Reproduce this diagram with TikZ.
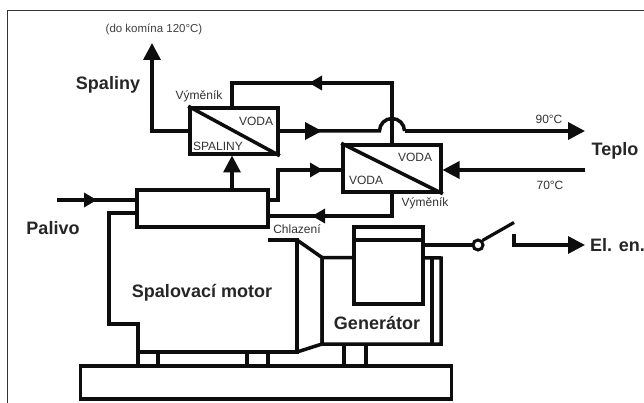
\documentclass[tikz,border=0pt]{standalone}
\usepackage{fontspec}
\setmainfont{Liberation Sans}
\usetikzlibrary{arrows.meta}
\tikzset{
  thk/.style={line width=3.5pt,black!95,line cap=butt,line join=miter},
  med/.style={line width=3.2pt,black!95},
  arr/.style={thk,-{Triangle[length=17pt,width=17pt]}},
  arrs/.style={thk,-{Triangle[length=13pt,width=14pt]}},
  exch/.style={draw=black!95,line width=3.6pt,fill=white,inner sep=0pt},
  big/.style={inner sep=0pt,font=\fontsize{18}{18}\selectfont\bfseries,text=black!85},
  small/.style={inner sep=0pt,font=\fontsize{12}{12}\selectfont,text=black!80},
  tiny/.style={inner sep=0pt,font=\fontsize{11.5}{12}\selectfont,text=black!75},
}
\begin{document}
\begin{tikzpicture}[x=1pt,y=-1pt]
\useasboundingbox (0,0) rectangle (644,403);
\fill[white] (0,0) rectangle (644,403);
% frame
\coordinate (fa) at (7.5,403); \coordinate (fb) at (7.5,10.5); \coordinate (fc) at (644,10.5);
\draw[line width=1.1pt,black!80] (fa) -- (fb) -- (fc);
% base
\node[exch,minimum width=371pt,minimum height=33pt] (base) at (266,382.5) {};
% engine feet
\foreach \n/\x in {a/138,b/158,c/247,d/268}{
  \coordinate (ft\n) at (\x,352); \coordinate (fb\n) at (\x,366);
  \draw[med] (ft\n) -- (fb\n);}
\foreach \n/\x in {e/344,f/366}{
  \coordinate (ft\n) at (\x,344); \coordinate (fb\n) at (\x,366);
  \draw[med] (ft\n) -- (fb\n);}
% engine outline
\coordinate (e1) at (137,213); \coordinate (e2) at (109,213); \coordinate (e3) at (109,324);
\coordinate (e4) at (138,324); \coordinate (e5) at (138,352); \coordinate (e6) at (297,352);
\coordinate (e7) at (297,240); \coordinate (e8) at (268,240);
\draw[thk] (e1) -- (e2) -- (e3) -- (e4) -- (e5) -- (e6) -- (e7) -- (e8);
% coupling
\coordinate (c1) at (322,257.5); \coordinate (c2) at (322,344);
\draw[thk] (e7) -- (c1) -- (c2) -- (e6);
% generator housing
\coordinate (g1) at (441,258); \coordinate (g2) at (441,344); \coordinate (g3) at (432,258); \coordinate (g4) at (432,344);
\draw[thk] (c1) -- (g1) -- (g2) -- (c2) -- cycle;
\draw[med] (g3) -- (g4);
% generator box
\node[exch,minimum width=69pt,minimum height=77pt] (gen) at (388.5,265.5) {};
\coordinate (gi1) at (354,240); \coordinate (gi2) at (423,240);
\draw[thk] (gi1) -- (gi2);
% head box of the engine
\node[exch,minimum width=131pt,minimum height=37pt] (head) at (202.5,208.5) {};
% exchangers
\node[exch,minimum width=88pt,minimum height=46pt] (x1) at (234,131) {};
\draw[thk] (x1.north west) -- (x1.south east);
\node[exch,minimum width=98pt,minimum height=47pt] (x2) at (392,168.5) {};
\draw[thk] (x2.north west) -- (x2.south east);
% flue gas
\coordinate (s1) at (152,131); \coordinate (s2) at (152,43);
\draw[arr] (x1.west |- s1) -- (s1) -- (s2);
\coordinate (x1b) at (232,190);
\draw[arr] (x1b) -- (232,155.5);
% water loop
\coordinate (w1) at (232,83); \coordinate (w2) at (392,83);
\draw[thk] (232,108) -- (w1) -- (w2) -- (392,145);
\coordinate (w3) at (325,83);
\draw[arrs] (w3) -- ++(-16,0);
% hot output with hop
\coordinate (h1) at (379.5,131); \coordinate (h2) at (404.5,131); \coordinate (h3) at (585,131);
\draw[thk] (x1.east |- h1) -- (h1) arc[start angle=180,end angle=0,radius=12.5pt];
\draw[arr] (h2) -- (h3);
\draw[arr] (278,131) -- (322,131);
\coordinate (r1) at (585,170);
\draw[arr] (r1) -- (442.5,170);
% cooling loop
\coordinate (k1) at (392,216); \coordinate (k2) at (268,216);
\draw[thk] (392,192) -- (k1) -- (k2);
\draw[arrs] (325,216) -- (312,216);
\coordinate (k3) at (278,170); \coordinate (k4) at (278,200); \coordinate (k5) at (268,200);
\draw[thk] (k5) -- (k4) -- (k3) -- (343,170);
\draw[arrs] (278,170) -- (323,170);
% fuel
\coordinate (p1) at (57,200);
\draw[arrs] (p1) -- (97,200);
\draw[thk] (p1) -- (137,200);
% electricity
\node[circle,draw=black!95,line width=3pt,fill=white,minimum size=10pt,inner sep=0pt] (sw) at (478,245) {};
\draw[med] (423,245) -- (sw.west);
\coordinate (bl) at (514,222.5);
\draw[med] (sw.north east) -- (bl);
\coordinate (ct) at (514,234); \coordinate (cb) at (514,245); \coordinate (ce) at (585,245);
\draw[med,-{Triangle[length=17pt,width=17pt]}] (ct) -- (cb) -- (ce);
% labels
\node[tiny] at (154,29) {(do komína 120°C)};
\node[big] at (108,85) {Spaliny};
\node[small] at (199,96) {Výměník};
\node[small] at (256,121) {VODA};
\node[small] at (218,146) {SPALINY};
\node[small] at (415,157) {VODA};
\node[small] at (366,180) {VODA};
\node[small] at (425,203) {Výměník};
\node[small] at (297,229) {Chlazení};
\node[small] at (549,119) {90°C};
\node[small] at (550,185) {70°C};
\node[big] at (615,151) {Teplo};
\node[big] at (53,228) {Palivo};
\node[big] at (202,293) {Spalovací motor};
\node[big] at (377,323) {Generátor};
\node[big] at (617.5,245.5) {El. en.};
\end{tikzpicture}
\end{document}
